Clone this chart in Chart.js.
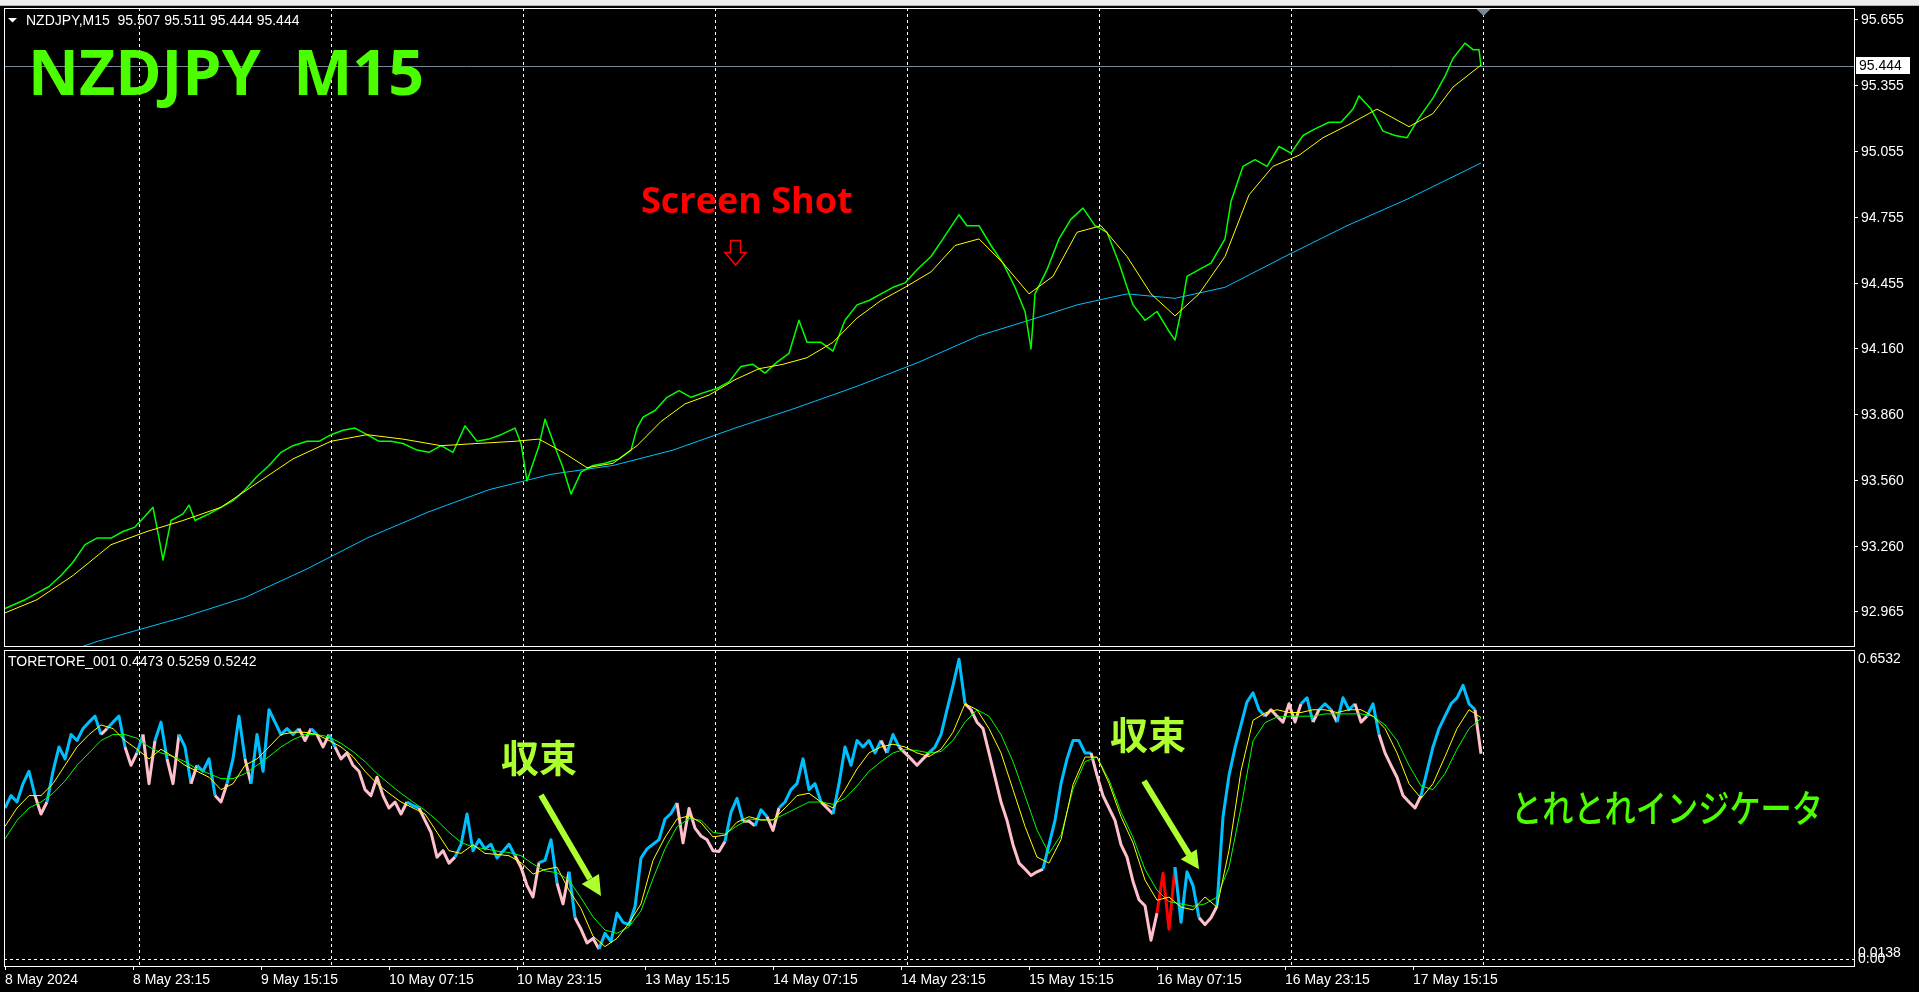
<!DOCTYPE html>
<html>
<head>
<meta charset="utf-8">
<script src="https://cdn.jsdelivr.net/npm/chart.js@4.4.1/dist/chart.umd.min.js"></script>
<style>
html, body { margin: 0; padding: 0; background: #000; overflow: hidden; }
#wrap { position: relative; width: 1919px; height: 992px; background: #000; }
#toolbar { position: absolute; left: 0; top: 0; width: 1919px; height: 5px; background: #ececec; border-bottom: 1px solid #b4b4b4; }
canvas { position: absolute; left: 0; }
#cPrice { top: 0; }
#cOsc { top: 648px; }
#ann { position: absolute; left: 0; top: 0; pointer-events: none; }
.hdr { font: 14px "Liberation Sans"; fill: #fff; white-space: pre; }
.title { font: 700 62px "Open Sans"; fill: #4cff00; white-space: pre; }
.shot { font: 700 36px "Open Sans"; fill: #ff0000; }
.kanji { font: 700 38px "Noto Sans CJK JP"; fill: #adff2f; }
.jp { font: 500 38px "Noto Sans CJK JP"; fill: #4cff00; }
</style>
</head>
<body>
<div id="wrap">
  <div id="toolbar"></div>
  <canvas id="cPrice" width="1919" height="648"></canvas>
  <canvas id="cOsc" width="1919" height="344"></canvas>
  <svg id="ann" width="1919" height="992">
    <polygon points="8,18 17,18 12.5,22.5" fill="#fff"/>
    <text class="hdr" x="26" y="25">NZDJPY,M15  95.507 95.511 95.444 95.444</text>
    <text class="title" x="28" y="95" textLength="396" lengthAdjust="spacingAndGlyphs">NZDJPY  M15</text>
    <text class="shot" x="641" y="213">Screen Shot</text>
    <path d="M730.5 240.5 H740.5 V252.5 H746 L735.5 265 L725 252.5 H730.5 Z" fill="none" stroke="#ff0000" stroke-width="1.5"/>
    <text class="hdr" x="8" y="666">TORETORE_001 0.4473 0.5259 0.5242</text>
    <text class="kanji" x="501" y="772">収束</text>
    <line x1="541" y1="795" x2="590" y2="879" stroke="#adff2f" stroke-width="6"/>
    <polygon points="581.7,884 599,874 601,896" fill="#adff2f"/>
    <text class="kanji" x="1110" y="749">収束</text>
    <line x1="1144" y1="781" x2="1189" y2="854.5" stroke="#adff2f" stroke-width="6"/>
    <polygon points="1180.7,859.3 1196.7,849.3 1199,869.3" fill="#adff2f"/>
    <text class="jp" x="1511" y="822" textLength="312" lengthAdjust="spacingAndGlyphs">とれとれインジケータ</text>
  </svg>
</div>
<script>
// time axis: M15 bars counted from the first visible bar (8 May 07:15)
const BAR_MIN = -0.5, BAR_MAX = 924.5;
const timeLabelBars = [0, 64, 128, 192, 256, 320, 384, 448, 512, 576, 640, 704];
const timeLabels = ['8 May 2024', '8 May 23:15', '9 May 15:15', '10 May 07:15', '10 May 23:15', '13 May 15:15',
  '14 May 07:15', '14 May 23:15', '15 May 15:15', '16 May 07:15', '16 May 23:15', '17 May 15:15'];
const dayBars = [67, 163, 259, 355, 451, 547, 643, 739];
const shiftBar = 739;

// price pane
const PRICE_MIN = 92.8095, PRICE_MAX = 95.7095;
const priceTicks = [92.965, 93.260, 93.560, 93.860, 94.160, 94.455, 94.755, 95.055, 95.355, 95.655];
const lastPrice = 95.444;

const priceBars = [0,10,16,22,28,34,40,46,53,59,65,71,74,77,79,83,89,92,95,102,
  108,114,120,126,132,138,144,151,157,163,169,175,181,187,193,199,206,212,218,224,
  230,236,242,248,255,258,261,267,270,276,279,283,288,294,300,307,313,316,319,325,
  331,337,343,349,356,362,368,374,380,386,392,397,401,408,414,420,426,432,438,444,
  450,456,463,469,477,481,487,493,499,505,510,513,515,521,527,533,539,545,551,557,
  564,570,576,582,585,588,591,597,603,610,613,619,625,631,637,643,649,655,662,668,
  674,677,683,689,695,701,707,714,720,724,730,734,737,738];
const priceClose = [92.98,93.02,93.05,93.08,93.13,93.19,93.27,93.30,93.30,93.33,
  93.35,93.41,93.44,93.30,93.20,93.38,93.41,93.45,93.38,93.41,
  93.44,93.47,93.52,93.58,93.63,93.69,93.72,93.74,93.74,93.77,
  93.79,93.80,93.77,93.74,93.74,93.73,93.70,93.69,93.72,93.69,
  93.81,93.74,93.75,93.77,93.80,93.73,93.56,93.72,93.84,93.69,
  93.62,93.50,93.60,93.63,93.64,93.66,93.70,93.80,93.85,93.88,
  93.94,93.97,93.94,93.96,93.98,94.01,94.08,94.09,94.05,94.10,
  94.14,94.29,94.19,94.19,94.15,94.29,94.36,94.38,94.41,94.44,
  94.46,94.52,94.58,94.66,94.77,94.72,94.72,94.63,94.55,94.44,
  94.33,94.16,94.41,94.52,94.66,94.75,94.80,94.72,94.69,94.55,
  94.36,94.29,94.33,94.24,94.20,94.33,94.49,94.52,94.55,94.66,
  94.83,94.99,95.02,94.99,95.08,95.05,95.13,95.16,95.19,95.19,
  95.25,95.31,95.25,95.15,95.13,95.12,95.21,95.30,95.40,95.48,
  95.55,95.52,95.52,95.444];

const fastMaBars = [0,16,34,53,71,89,108,126,144,163,181,199,218,236,255,267,279,291,304,316,
  328,340,352,365,377,389,401,414,426,438,450,463,475,487,499,512,524,536,548,561,
  573,585,597,610,622,634,647,659,672,686,702,714,724,738];
const fastMa = [92.96,93.02,93.13,93.27,93.33,93.38,93.44,93.55,93.66,93.74,
  93.77,93.75,93.72,93.73,93.74,93.75,93.69,93.62,93.64,93.72,
  93.83,93.91,93.95,94.02,94.07,94.09,94.12,94.19,94.30,94.38,
  94.44,94.51,94.63,94.66,94.55,94.41,94.49,94.69,94.72,94.58,
  94.41,94.31,94.41,94.58,94.86,94.99,95.04,95.12,95.18,95.25,
  95.17,95.23,95.35,95.45];

const slowMaBars = [30,46,89,120,151,181,212,242,273,304,334,365,395,426,457,487,512,536,561,585,610,640,671,701,738];
const slowMa = [92.78,92.83,92.94,93.03,93.16,93.30,93.42,93.52,93.59,93.63,93.70,93.80,93.89,93.99,94.10,
  94.22,94.29,94.36,94.41,94.39,94.44,94.58,94.72,94.84,95.005];

// oscillator pane (TORETORE_001)
const OSC_MIN = -0.01525, OSC_MAX = 0.6732;
const oscTicks = [0, 0.0138, 0.6532];
const OSC_STEP = 3;   // main line read every 3 bars
const SIG_STEP = 6;   // signal lines read every 6 bars
const redZone = [575, 586];

const oscMain = [0.329,0.356,0.342,0.382,0.409,0.356,0.316,0.342,0.409,0.462,
  0.436,0.489,0.476,0.502,0.516,0.529,0.489,0.502,0.516,0.529,
  0.462,0.422,0.449,0.489,0.382,0.476,0.516,0.436,0.382,0.489,
  0.462,0.382,0.422,0.409,0.436,0.356,0.342,0.382,0.436,0.529,
  0.436,0.382,0.489,0.409,0.543,0.516,0.489,0.502,0.489,0.502,
  0.476,0.502,0.489,0.462,0.489,0.462,0.436,0.449,0.422,0.409,
  0.369,0.356,0.396,0.356,0.329,0.342,0.316,0.342,0.334,0.329,
  0.302,0.276,0.222,0.236,0.209,0.222,0.249,0.316,0.236,
  0.26,0.24,0.25,0.22,0.235,0.25,0.225,0.2,0.16,0.135,
  0.21,0.215,0.26,0.165,0.12,0.19,0.09,0.065,0.035,0.045,
  0.022,0.056,0.038,0.1,0.08,0.075,0.114,0.22,0.24,0.25,
  0.26,0.305,0.317,0.34,0.253,0.328,0.285,0.268,0.26,0.236,
  0.234,0.256,0.32,0.35,0.3,0.3,0.29,0.325,0.31,0.28,
  0.329,0.342,0.369,0.382,0.436,0.369,0.382,0.342,0.329,0.316,
  0.382,0.462,0.422,0.476,0.462,0.476,0.449,0.476,0.449,0.489,
  0.462,0.449,0.436,0.422,0.436,0.449,0.462,0.489,0.543,0.596,
  0.653,0.556,0.543,0.516,0.502,0.449,0.396,0.342,0.302,0.249,
  0.209,0.196,0.182,0.190,0.196,0.249,0.302,0.382,0.436,0.476,
  0.476,0.449,0.449,0.40,0.356,0.329,0.302,0.249,0.222,0.169,
  0.129,0.116,0.041,0.100,0.187,0.065,0.200,0.080,0.190,0.160,
  0.090,0.075,0.090,0.115,0.310,0.400,0.460,0.510,0.560,0.580,
  0.543,0.529,0.543,0.529,0.516,0.556,0.516,0.556,0.569,0.516,
  0.543,0.556,0.543,0.516,0.569,0.543,0.556,0.516,0.529,0.556,
  0.489,0.449,0.422,0.396,0.356,0.342,0.329,0.356,0.409,0.462,
  0.502,0.529,0.556,0.569,0.596,0.556,0.543,0.447];

const oscSignal = [0.289,0.329,0.356,0.356,0.382,0.422,0.462,0.489,0.510,0.502,
  0.476,0.457,0.436,0.457,0.441,0.422,0.409,0.396,0.369,0.382,
  0.422,0.436,0.462,0.489,0.494,0.494,0.489,0.476,0.462,0.441,
  0.409,0.382,0.361,0.342,0.329,0.316,0.276,0.236,0.230,0.249,
  0.23,0.228,0.225,0.21,0.185,0.195,0.2,0.15,0.11,0.05,
  0.027,0.045,0.078,0.12,0.215,0.265,0.305,0.312,0.297,0.266,
  0.27,0.298,0.31,0.303,0.303,
  0.329,0.356,0.361,0.342,0.329,0.369,0.414,0.449,0.462,0.468,
  0.462,0.449,0.441,0.457,0.494,0.556,0.543,0.502,0.449,0.369,
  0.289,0.222,0.209,
  0.26,0.38,0.44,0.44,0.383,0.31,0.253,0.172,0.128,0.135,
  0.113,0.107,0.135,0.113,0.237,0.41,0.52,0.536,
  0.543,0.537,0.537,0.543,0.543,0.537,0.543,0.543,0.529,0.502,
  0.449,0.382,0.350,0.382,0.441,0.502,0.543,0.526];

const oscSlow = [0.262,0.302,0.329,0.342,0.361,0.388,0.422,0.449,0.476,0.489,
  0.489,0.481,0.462,0.449,0.441,0.430,0.414,0.404,0.393,0.393,
  0.404,0.422,0.441,0.462,0.478,0.489,0.489,0.484,0.470,0.452,
  0.430,0.404,0.382,0.361,0.342,0.324,0.302,0.276,0.254,0.244,
  0.24,0.235,0.232,0.225,0.207,0.192,0.188,0.172,0.133,0.092,
  0.063,0.056,0.07,0.105,0.175,0.24,0.288,0.306,0.302,0.276,
  0.272,0.29,0.305,0.303,0.303,
  0.316,0.329,0.342,0.342,0.337,0.350,0.377,0.409,0.430,0.449,
  0.457,0.454,0.449,0.452,0.476,0.516,0.543,0.529,0.489,0.430,
  0.356,0.281,0.230,
  0.27,0.37,0.43,0.44,0.39,0.32,0.265,0.195,0.15,0.125,
  0.12,0.115,0.12,0.135,0.2,0.33,0.475,0.515,0.527,
  0.529,0.529,0.529,0.534,0.534,0.534,0.534,0.529,0.510,0.476,
  0.422,0.377,0.369,0.404,0.457,0.502,0.524];

Chart.defaults.font.family = '"Liberation Sans", Arial, sans-serif';
Chart.defaults.font.size = 14;

function pts(bars, vals) { return bars.map((b, i) => ({ x: b, y: vals[i] })); }
function stepPts(vals, step) { return vals.map((v, k) => ({ x: k * step, y: v })); }

function signalAt(bar) {
  const f = bar / SIG_STEP;
  const i = Math.min(Math.floor(f), oscSignal.length - 1);
  const a = oscSignal[i], b = oscSignal[Math.min(i + 1, oscSignal.length - 1)];
  return a + (b - a) * (f - i);
}

// white frame round each pane
const paneFrame = {
  id: 'paneFrame',
  afterDraw(chart) {
    const { ctx, chartArea: a } = chart;
    ctx.save();
    ctx.strokeStyle = '#ffffff';
    ctx.lineWidth = 1;
    ctx.strokeRect(a.left + 0.5, a.top + 0.5, a.right - a.left, a.bottom - a.top);
    ctx.restore();
  }
};

// bid line, its price box and the chart shift marker
const priceMarker = {
  id: 'priceMarker',
  beforeDatasetsDraw(chart) {
    const { ctx, chartArea: a, scales: { y } } = chart;
    const py = Math.round(y.getPixelForValue(lastPrice)) + 0.5;
    ctx.save();
    ctx.strokeStyle = '#778899';
    ctx.lineWidth = 1;
    ctx.beginPath();
    ctx.moveTo(a.left, py);
    ctx.lineTo(a.right, py);
    ctx.stroke();
    ctx.restore();
  },
  afterDraw(chart) {
    const { ctx, chartArea: a, scales: { x, y } } = chart;
    const py = Math.round(y.getPixelForValue(lastPrice));
    ctx.save();
    ctx.fillStyle = '#ffffff';
    ctx.fillRect(a.right + 2, py - 9, 54, 17);
    ctx.fillStyle = '#000000';
    ctx.font = '14px "Liberation Sans"';
    ctx.textBaseline = 'middle';
    ctx.fillText(lastPrice.toFixed(3), a.right + 5, py + 0.5);
    const tx = Math.round(x.getPixelForValue(shiftBar)) + 0.5;
    ctx.fillStyle = '#778899';
    ctx.beginPath();
    ctx.moveTo(tx - 7, a.top + 1);
    ctx.lineTo(tx + 7, a.top + 1);
    ctx.lineTo(tx, a.top + 8);
    ctx.closePath();
    ctx.fill();
    ctx.restore();
  }
};

function noPad(s) { s.paddingLeft = 0; s.paddingRight = 0; s.paddingTop = 0; s.paddingBottom = 0; }

function dayGridAxis() {
  return {
    type: 'linear', position: 'bottom', min: BAR_MIN, max: BAR_MAX,
    afterBuildTicks: s => { s.ticks = dayBars.map(v => ({ value: v })); },
    ticks: { display: false },
    grid: { color: '#ffffff', lineWidth: 1, drawTicks: false },
    border: { display: false, dash: [3, 3] },
    afterFit: s => { s.height = 0; noPad(s); }
  };
}

const common = {
  responsive: false,
  animation: false,
  devicePixelRatio: 1,
  events: [],
  parsing: false,
  plugins: { legend: { display: false }, tooltip: { enabled: false } },
  elements: { point: { radius: 0 }, line: { tension: 0, borderJoinStyle: 'round' } }
};

new Chart(document.getElementById('cPrice'), {
  type: 'line',
  data: {
    datasets: [
      { data: pts(fastMaBars, fastMa), borderColor: '#ffff00', borderWidth: 1 },
      { data: pts(priceBars, priceClose), borderColor: '#00ff00', borderWidth: 1.5 },
      { data: pts(slowMaBars, slowMa), borderColor: '#00bfff', borderWidth: 1 }
    ]
  },
  options: Object.assign({}, common, {
    layout: { padding: { left: 4, top: 8, right: 0, bottom: 2 }, autoPadding: false },
    scales: {
      x: dayGridAxis(),
      y: {
        type: 'linear', position: 'right', min: PRICE_MIN, max: PRICE_MAX,
        afterBuildTicks: s => { s.ticks = priceTicks.map(v => ({ value: v })); },
        ticks: { callback: v => v.toFixed(3), color: '#ffffff', padding: 3, autoSkip: false },
        grid: { drawOnChartArea: false, drawTicks: true, tickLength: 4, color: '#ffffff' },
        border: { display: false },
        afterFit: s => { s.width = 65; noPad(s); }
      }
    }
  }),
  plugins: [paneFrame, priceMarker]
});

new Chart(document.getElementById('cOsc'), {
  type: 'line',
  data: {
    datasets: [
      { data: stepPts(oscSignal, SIG_STEP), borderColor: '#ffff00', borderWidth: 1 },
      { data: stepPts(oscSlow, SIG_STEP), borderColor: '#00ff00', borderWidth: 1 },
      {
        data: stepPts(oscMain, OSC_STEP), borderColor: '#00bfff', borderWidth: 3,
        segment: {
          borderColor: c => {
            const x0 = c.p0.parsed.x, x1 = c.p1.parsed.x;
            if (x0 >= redZone[0] && x1 <= redZone[1]) return '#ff0000';
            const m = (c.p0.parsed.y + c.p1.parsed.y) / 2;
            return m < signalAt((x0 + x1) / 2) ? '#ffc0cb' : '#00bfff';
          }
        }
      }
    ]
  },
  options: Object.assign({}, common, {
    layout: { padding: { left: 4, top: 2, right: 0, bottom: 0 }, autoPadding: false },
    scales: {
      x: dayGridAxis(),
      xl: {
        type: 'linear', position: 'bottom', min: BAR_MIN, max: BAR_MAX,
        afterBuildTicks: s => { s.ticks = timeLabelBars.map(v => ({ value: v })); },
        ticks: {
          callback: (v, i) => timeLabels[i], color: '#ffffff', align: 'start',
          maxRotation: 0, minRotation: 0, autoSkip: false, padding: 2
        },
        grid: { drawOnChartArea: false, drawTicks: true, tickLength: 4, color: '#ffffff' },
        border: { display: false },
        afterFit: s => { s.height = 26; noPad(s); }
      },
      y: {
        type: 'linear', position: 'right', min: OSC_MIN, max: OSC_MAX,
        afterBuildTicks: s => { s.ticks = oscTicks.map(v => ({ value: v })); },
        ticks: { callback: v => (v === 0 ? '0.00' : v.toFixed(4)), color: '#ffffff', padding: 4, autoSkip: false },
        grid: { drawTicks: false, color: c => (c.tick && c.tick.value === 0 ? '#ffffff' : 'rgba(0,0,0,0)') },
        border: { display: false, dash: [3, 3] },
        afterFit: s => { s.width = 65; noPad(s); }
      }
    }
  }),
  plugins: [paneFrame]
});
</script>
</body>
</html>
